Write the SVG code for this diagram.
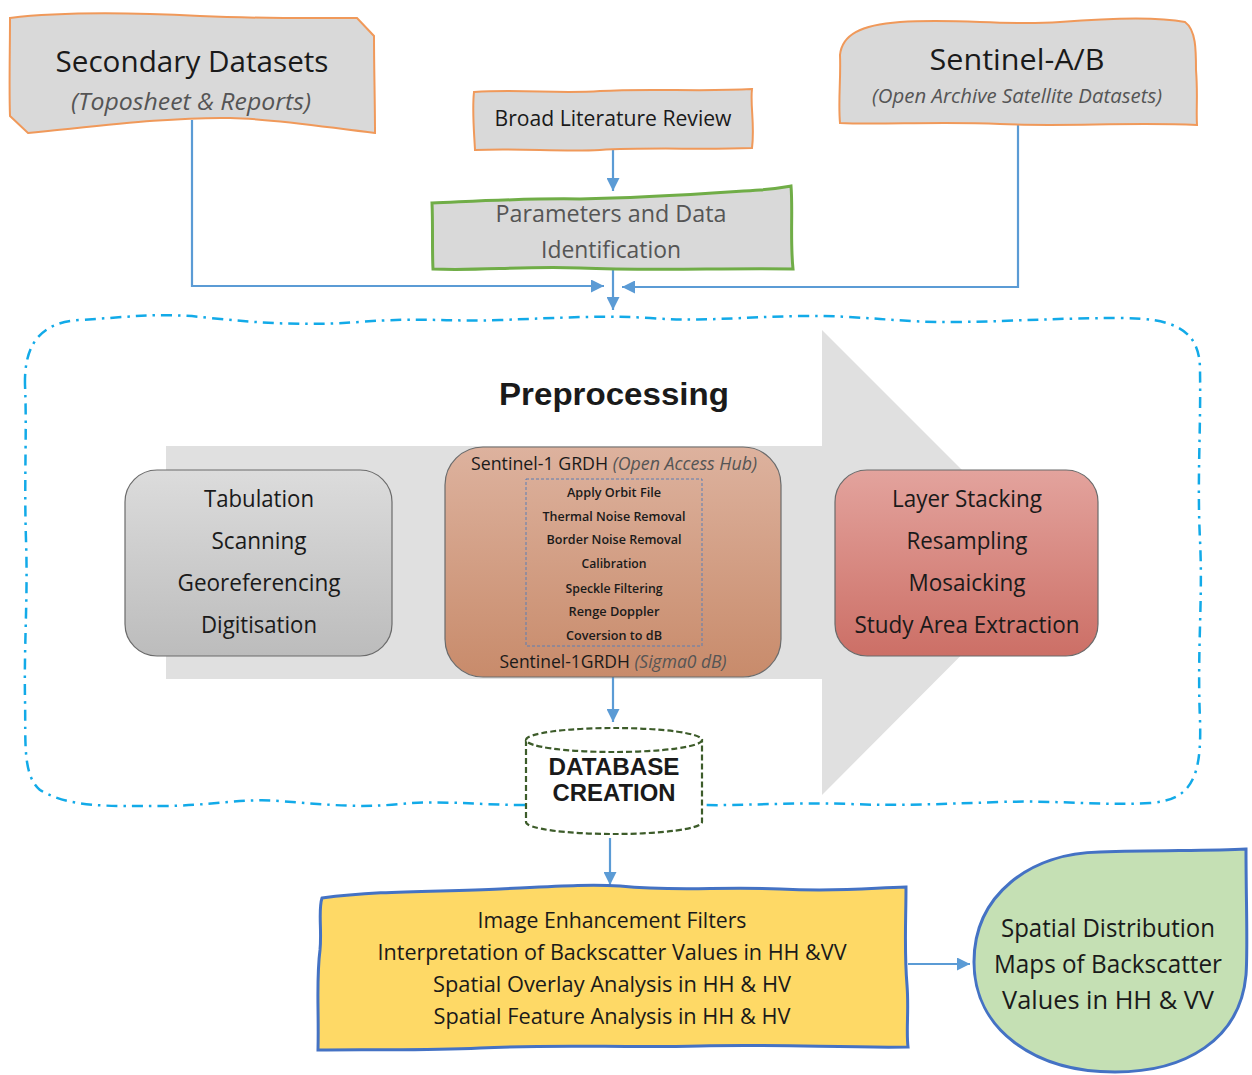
<svg xmlns="http://www.w3.org/2000/svg" width="1252" height="1075" viewBox="0 0 1252 1075">
<style>
text{font-family:"Open Sans","Noto Sans","Liberation Sans",sans-serif;fill:#1a1a1a;text-anchor:middle}
.it{font-style:italic;fill:#555}
.sub{fill:#555}
.src{fill:#d9d9d9;stroke:#f0995a;stroke-width:2}
.grn{fill:#d9d9d9;stroke:#70ad47;stroke-width:3}
.conn{fill:none;stroke:#5b9bd5;stroke-width:2.2}
.bnd{fill:none;stroke:#12aae8;stroke-width:2.5;stroke-dasharray:11 6 2.5 6}
.rb{stroke:#6b6b6b;stroke-width:1.2}
.sm{font-size:13px;font-weight:600}
.big{font-size:24px}
.yl{font-size:22px}
.hd{font-family:"Liberation Sans",Arial,sans-serif;font-weight:bold}
</style>
<defs>
<marker id="ah" viewBox="0 0 10 10" refX="10" refY="5" markerWidth="13" markerHeight="13" markerUnits="userSpaceOnUse" orient="auto"><path d="M0,0 L10,5 L0,10 Z" fill="#5b9bd5"/></marker>
<linearGradient id="gg" x1="0" y1="0" x2="0" y2="1"><stop offset="0" stop-color="#dcdcdc"/><stop offset="1" stop-color="#bcbcbc"/></linearGradient>
<linearGradient id="gb" x1="0" y1="0" x2="0" y2="1"><stop offset="0" stop-color="#ddb29e"/><stop offset="1" stop-color="#c88b6b"/></linearGradient>
<linearGradient id="gr" x1="0" y1="0" x2="0" y2="1"><stop offset="0" stop-color="#e3a39d"/><stop offset="1" stop-color="#cc6f66"/></linearGradient>
</defs>

<g id="boundary">
<path class="bnd" d="M25,385 C24,345 40,322 80,320 C130,317 160,312 210,318 C260,323 300,326 360,322 C420,317 450,322 500,320 C560,318 600,315 650,318 C700,322 740,317 800,316 C860,315 900,323 960,322 C1020,321 1060,318 1120,318 C1175,318 1200,330 1200,370 C1201,430 1197,480 1200,540 C1203,600 1197,650 1200,720 C1202,780 1190,800 1150,803 C1100,806 1060,800 1000,802 C940,804 900,806 850,804 C790,802 740,806 700,805 M525,805 C480,805 440,800 400,804 C360,808 330,805 280,801 C240,798 210,806 160,806 C110,806 70,808 40,790 C22,775 26,740 25,700 C24,640 28,600 26,540 C24,480 27,430 25,385"/>
</g>

<g id="bigarrow">
<path d="M166,446 L822,446 L822,330 L1054,562 L822,795 L822,679 L166,679 Z" fill="#e0e0e0"/>
</g>

<g id="connectors">
<path class="conn" d="M192,120 V286 H604" marker-end="url(#ah)"/>
<path class="conn" d="M1018,124 V287 H622" marker-end="url(#ah)"/>
<path class="conn" d="M613,268 V310" marker-end="url(#ah)"/>
<path class="conn" d="M613,150 V191" marker-end="url(#ah)"/>
<path class="conn" d="M613,677 V722" marker-end="url(#ah)"/>
<path class="conn" d="M610,838 V885" marker-end="url(#ah)"/>
<path class="conn" d="M908,964 H970" marker-end="url(#ah)"/>
</g>

<g id="secondary">
<path class="src" d="M10,18 C60,12 120,12 200,16 C270,19 320,18 357,18 L374,36 C374,70 375,100 375,133 C330,128 280,119 230,118 C170,117 100,126 28,133 L10,116 C9,90 10,50 10,18 Z"/>
<text x="192" y="72" font-size="30" textLength="273" lengthAdjust="spacingAndGlyphs">Secondary Datasets</text>
<text x="191" y="110" font-size="23" class="it" textLength="240" lengthAdjust="spacingAndGlyphs">(Toposheet &amp; Reports)</text>
</g>

<g id="sentinelab">
<path class="src" d="M840,55 C842,35 860,25 900,22 C960,18 1000,26 1060,22 C1110,18 1160,17 1185,22 C1196,30 1196,50 1196,70 C1198,95 1196,110 1197,125 C1130,122 1060,127 1000,124 C940,121 880,125 840,123 C838,100 841,80 840,55 Z"/>
<text x="1017" y="70" font-size="30" textLength="175" lengthAdjust="spacingAndGlyphs">Sentinel-A/B</text>
<text x="1017" y="103" font-size="20" class="it" textLength="290" lengthAdjust="spacingAndGlyphs">(Open Archive Satellite Datasets)</text>
</g>

<g id="literature">
<path class="src" d="M474,92 C520,89 560,94 600,91 C650,88 700,92 752,89 C750,105 755,125 752,148 C700,150 650,147 600,150 C560,152 520,148 475,150 C474,130 472,110 474,92 Z"/>
<text x="613" y="126" font-size="22" textLength="237" lengthAdjust="spacingAndGlyphs">Broad Literature Review</text>
</g>

<g id="parameters">
<path class="grn" d="M432,203 C480,201 530,198 580,199 C650,198 700,194 760,190 C775,189 785,187 791,186 C793,210 790,240 793,269 C720,268 650,271 580,268 C520,266 480,271 433,269 C432,250 433,225 432,203 Z"/>
<text x="611" y="222" font-size="23" class="sub" textLength="231" lengthAdjust="spacingAndGlyphs">Parameters and Data</text>
<text x="611" y="258" font-size="23" class="sub" textLength="140" lengthAdjust="spacingAndGlyphs">Identification</text>
</g>

<g id="preprocessing-title">
<text x="614" y="405" font-size="32" class="hd" textLength="230" lengthAdjust="spacingAndGlyphs">Preprocessing</text>
</g>

<g id="manual">
<rect x="125" y="470" width="267" height="186" rx="32" fill="url(#gg)" class="rb"/>
<text x="259" y="507" class="big" textLength="110" lengthAdjust="spacingAndGlyphs">Tabulation</text>
<text x="259" y="549" class="big" textLength="95" lengthAdjust="spacingAndGlyphs">Scanning</text>
<text x="259" y="591" class="big" textLength="163" lengthAdjust="spacingAndGlyphs">Georeferencing</text>
<text x="259" y="633" class="big" textLength="116" lengthAdjust="spacingAndGlyphs">Digitisation</text>
</g>

<g id="sentinel1">
<rect x="445" y="447" width="336" height="230" rx="38" fill="url(#gb)" class="rb"/>
<text x="614" y="470" font-size="18" textLength="286" lengthAdjust="spacingAndGlyphs">Sentinel-1 GRDH <tspan class="it">(Open Access Hub)</tspan></text>
<rect x="526" y="479" width="176" height="167" fill="none" stroke="#5b7fb5" stroke-width="1" stroke-dasharray="3 2"/>
<text x="614" y="497" class="sm" textLength="94" lengthAdjust="spacingAndGlyphs">Apply Orbit File</text>
<text x="614" y="521" class="sm" textLength="143" lengthAdjust="spacingAndGlyphs">Thermal Noise Removal</text>
<text x="614" y="544" class="sm" textLength="135" lengthAdjust="spacingAndGlyphs">Border Noise Removal</text>
<text x="614" y="568" class="sm" textLength="65" lengthAdjust="spacingAndGlyphs">Calibration</text>
<text x="614" y="593" class="sm" textLength="97" lengthAdjust="spacingAndGlyphs">Speckle Filtering</text>
<text x="614" y="616" class="sm" textLength="91" lengthAdjust="spacingAndGlyphs">Renge Doppler</text>
<text x="614" y="640" class="sm" textLength="96" lengthAdjust="spacingAndGlyphs">Coversion to dB</text>
<text x="613" y="668" font-size="18" textLength="227" lengthAdjust="spacingAndGlyphs">Sentinel-1GRDH <tspan class="it">(Sigma0 dB)</tspan></text>
</g>

<g id="stacking">
<rect x="835" y="470" width="263" height="186" rx="32" fill="url(#gr)" class="rb"/>
<text x="967" y="507" class="big" textLength="150" lengthAdjust="spacingAndGlyphs">Layer Stacking</text>
<text x="967" y="549" class="big" textLength="121" lengthAdjust="spacingAndGlyphs">Resampling</text>
<text x="967" y="591" class="big" textLength="117" lengthAdjust="spacingAndGlyphs">Mosaicking</text>
<text x="967" y="633" class="big" textLength="225" lengthAdjust="spacingAndGlyphs">Study Area Extraction</text>
</g>

<g id="database">
<path d="M526,740 L526,822 A88,12 0 0 0 702,822 L702,740 Z" fill="#fff" stroke="#3d5c2a" stroke-width="2.2" stroke-dasharray="6 3"/>
<ellipse cx="614" cy="740" rx="88" ry="12" fill="#fff" stroke="#3d5c2a" stroke-width="2.2" stroke-dasharray="6 3"/>
<text x="614" y="775" font-size="24" class="hd" textLength="131" lengthAdjust="spacingAndGlyphs">DATABASE</text>
<text x="614" y="801" font-size="24" class="hd" textLength="123" lengthAdjust="spacingAndGlyphs">CREATION</text>
</g>

<g id="analysis">
<path d="M322,898 C380,890 440,892 500,889 C560,886 590,884 620,886 C680,892 720,886 780,889 C840,892 870,888 906,887 C906,920 904,950 907,985 C909,1010 906,1030 908,1047 C840,1048 780,1044 700,1046 C620,1048 560,1044 480,1048 C420,1051 370,1049 318,1050 C319,1010 316,980 320,950 C322,930 318,910 322,898 Z" fill="#fed966" stroke="#4472c4" stroke-width="3"/>
<text x="612" y="928" class="yl" textLength="269" lengthAdjust="spacingAndGlyphs">Image Enhancement Filters</text>
<text x="612" y="960" class="yl" textLength="469" lengthAdjust="spacingAndGlyphs">Interpretation of Backscatter Values in HH &amp;VV</text>
<text x="612" y="992" class="yl" textLength="358" lengthAdjust="spacingAndGlyphs">Spatial Overlay Analysis in HH &amp; HV</text>
<text x="612" y="1024" class="yl" textLength="357" lengthAdjust="spacingAndGlyphs">Spatial Feature Analysis in HH &amp; HV</text>
</g>

<g id="maps">
<path d="M1246,849 C1246,900 1248,950 1246,975 C1240,1040 1185,1072 1115,1072 C1035,1072 974,1030 974,962 C974,895 1030,853 1100,852 C1160,850 1210,851 1246,849 Z" fill="#c5e0b4" stroke="#4472c4" stroke-width="3"/>
<text x="1108" y="937" font-size="26" textLength="214" lengthAdjust="spacingAndGlyphs">Spatial Distribution</text>
<text x="1108" y="973" font-size="26" textLength="228" lengthAdjust="spacingAndGlyphs">Maps of Backscatter</text>
<text x="1108" y="1009" font-size="26" textLength="212" lengthAdjust="spacingAndGlyphs">Values in HH &amp; VV</text>
</g>
</svg>
